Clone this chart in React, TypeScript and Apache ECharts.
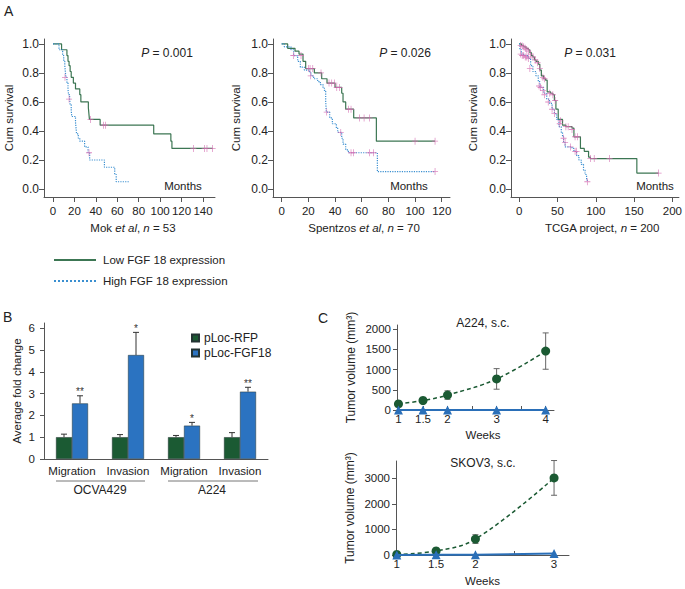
import React, { useEffect, useRef } from "react";
import * as echarts from "echarts";

const F = "'Liberation Sans', Arial, Helvetica, sans-serif";
const TXT = "#222";
const AX = "#555";
const GREEN_KM = "#3c7653";
const BLUE_KM = "#3a8fd0";
const PINK = "#d56db2";
const GREEN_DARK = "#1b5a33";
const BLUE_BAR = "#2b73c1";
const BLUE_LINE = "#2a6fb8";

// ---------- Panel A: Kaplan-Meier data [months, cum survival] ----------
const mokLow = [[0,1],[8,0.96],[13,0.92],[14,0.88],[15,0.85],[16,0.81],[17,0.77],[19,0.73],[21,0.69],[25,0.65],[26,0.6],[33,0.56],[33.5,0.52],[34,0.48],[44,0.44],[94,0.38],[110,0.33],[111,0.28],[149,0.28]];
const mokHigh = [[0,1],[5.6,0.96],[9,0.92],[10,0.88],[11,0.85],[11.5,0.81],[12,0.77],[13,0.73],[14,0.69],[14.5,0.65],[15.5,0.62],[16,0.58],[17,0.54],[17.5,0.5],[21,0.46],[21.5,0.42],[22,0.38],[23.6,0.35],[25,0.33],[29.5,0.29],[32.7,0.25],[34.2,0.2],[48,0.15],[57.6,0.1],[59,0.05],[71,0.05]];
const mokCensor = [[35,0.48],[47,0.44],[49,0.44],[131,0.28],[141.5,0.28],[143.7,0.28],[149,0.28],[11.2,0.77],[15,0.62],[33.6,0.25]];

const spLow = [[0,1],[4.5,0.97],[10,0.95],[13,0.93],[16,0.88],[18,0.83],[24.5,0.8],[30,0.76],[34,0.73],[40,0.7],[45,0.66],[46,0.6],[48,0.55],[54,0.49],[71,0.33],[115,0.33]];
const spHigh = [[0,1],[2,0.98],[7,0.96],[9,0.92],[12,0.88],[14,0.84],[17,0.82],[21,0.8],[22,0.78],[24,0.76],[27,0.74],[29,0.72],[31,0.7],[32,0.68],[33,0.6],[33.5,0.53],[36,0.49],[38,0.45],[41,0.42],[42,0.39],[45,0.35],[46,0.31],[48,0.27],[50,0.25],[71.75,0.12],[115,0.12]];
const spCensor = [[14.5,0.92],[20,0.83],[21.3,0.83],[23.3,0.83],[29.5,0.8],[35.5,0.73],[37.5,0.73],[39.5,0.73],[41.3,0.7],[43.3,0.7],[50,0.55],[52,0.55],[58.3,0.49],[61.8,0.49],[65.8,0.49],[100,0.33],[115,0.33],[8.75,0.92],[21.75,0.78],[33.75,0.53],[44.3,0.39],[52,0.25],[53.8,0.25],[65.8,0.25],[68.8,0.25],[115,0.12]];

const tcgaLow = [[0,1],[3,0.99],[6,0.98],[9,0.97],[12,0.96],[14,0.94],[16,0.92],[18,0.91],[20,0.89],[22,0.88],[25,0.86],[27,0.82],[29,0.78],[32,0.76],[34.5,0.75],[36.6,0.67],[41,0.66],[44,0.65],[46,0.61],[48,0.55],[51,0.48],[56.6,0.44],[61,0.43],[69,0.42],[71.5,0.36],[80,0.28],[85,0.26],[90.6,0.22],[93,0.21],[153.6,0.11],[182,0.11]];
const tcgaHigh = [[0,1],[1,0.96],[3,0.93],[6,0.92],[12,0.9],[15,0.85],[18,0.81],[22,0.78],[25,0.74],[27,0.7],[32,0.66],[36,0.62],[39.6,0.59],[43,0.55],[46,0.52],[49,0.48],[52,0.43],[55,0.39],[56.6,0.36],[58,0.32],[60,0.29],[69,0.28],[71.5,0.26],[75,0.23],[78,0.2],[81,0.17],[84,0.13],[86,0.1],[88,0.07],[89,0.05]];
const tcgaCensor = [[2,0.99],[4,0.985],[6,0.98],[8,0.97],[10,0.96],[12,0.95],[15,0.93],[18,0.91],[21,0.89],[24,0.87],[27,0.83],[31,0.77],[33,0.76],[40,0.66],[44,0.65],[47,0.61],[54,0.47],[61,0.43],[64,0.43],[69,0.41],[73,0.36],[76,0.36],[93,0.21],[98,0.21],[118,0.21],[182,0.11],[2,0.93],[4,0.92],[6,0.92],[8,0.91],[10,0.91],[12,0.9],[14,0.83],[26,0.71],[28,0.7],[31,0.68],[33,0.65],[38,0.6],[43,0.55],[46,0.52],[53,0.45],[58,0.35],[60,0.32],[67,0.29],[73,0.26],[75,0.26],[89,0.05]];

const kmSurvTicks = [0, 0.2, 0.4, 0.6, 0.8, 1.0];
const mokTicks = [0, 20, 40, 60, 80, 100, 120, 140];
const spTicks = [0, 20, 40, 60, 80, 100, 120];
const tcgaTicks = [0, 50, 100, 150, 200];

// ---------- Panel B ----------
const bCategories = ["Migration", "Invasion", "Migration", "Invasion"];
const bGroups = ["OCVA429", "A224"];
const rfpValues = [1.0, 1.0, 1.0, 1.0];
const rfpErrors = [0.14, 0.12, 0.08, 0.21];
const fgfValues = [2.55, 4.77, 1.53, 3.09];
const fgfErrors = [0.35, 1.04, 0.15, 0.2];
const fgfSig = ["**", "*", "*", "**"];
const bTicks = [0, 1, 2, 3, 4, 5, 6];

// ---------- Panel C ----------
const c1Weeks = [1, 1.5, 2, 3, 4];
const c1Rfp = [150, 235, 370, 770, 1460];
const c1RfpErr = [40, 50, 105, 255, 450];
const c1Fgf = [0, 0, 0, 0, 0];
const c1TickVals = [1, 1.5, 2, 2.5, 3, 3.5, 4];
const c1LabelVals = [1, 1.5, 2, 3, 4];
const c1YTicks = [0, 500, 1000, 1500, 2000];

const c2Weeks = [1, 1.5, 2, 3];
const c2Rfp = [20, 160, 625, 3020];
const c2RfpErr = [0, 40, 170, 680];
const c2Fgf = [0, 5, 10, 60];
const c2TickVals = [1, 1.5, 2, 2.5, 3];
const c2LabelVals = [1, 1.5, 2, 3];
const c2YTicks = [0, 1000, 2000, 3000];

const BAR_W = 16;
const PLUS = "path://M4.4,0H5.6V4.4H10V5.6H5.6V10H4.4V5.6H0V4.4H4.4Z";

const pairs = (xs: number[], ys: number[]) => xs.map((x, i) => [x, ys[i]]);

function kmX(grid: number, min: number, max: number, ticks: number[]) {
  return {
    type: "value", gridIndex: grid, min, max,
    axisLine: { onZero: false, lineStyle: { color: AX, width: 1 } },
    axisTick: { customValues: ticks, length: 5, lineStyle: { color: AX } },
    axisLabel: { customValues: ticks, margin: 8, fontSize: 11.5, fontFamily: F, color: TXT, formatter: (v: number) => String(v) },
    splitLine: { show: false },
  };
}
function kmY(grid: number, gap: number) {
  return {
    type: "value", gridIndex: grid, min: -0.055, max: 1.034,
    name: "Cum survival", nameLocation: "middle", nameGap: gap,
    nameTextStyle: { fontSize: 11.5, fontFamily: F, color: TXT },
    axisLine: { show: true, onZero: false, lineStyle: { color: AX, width: 1 } },
    axisTick: { show: true, customValues: kmSurvTicks, length: 5, lineStyle: { color: AX } },
    axisLabel: { customValues: kmSurvTicks, margin: 5, fontSize: 12, fontFamily: F, color: TXT, formatter: (v: number) => v.toFixed(1) },
    splitLine: { show: false },
  };
}
function kmSeries(idx: number, low: number[][], high: number[][], cens: number[][]) {
  return [
    { name: "Low FGF 18 expression", type: "line", step: "end", xAxisIndex: idx, yAxisIndex: idx, data: low, symbol: "none", showSymbol: false, lineStyle: { color: GREEN_KM, width: 1.2 }, itemStyle: { color: GREEN_KM }, z: 3 },
    { name: "High FGF 18 expression", type: "line", step: "end", xAxisIndex: idx, yAxisIndex: idx, data: high, symbol: "none", showSymbol: false, lineStyle: { color: BLUE_KM, width: 1.2, type: "dotted" }, itemStyle: { color: BLUE_KM }, z: 3 },
    { name: "censored" + idx, type: "scatter", xAxisIndex: idx, yAxisIndex: idx, data: cens, symbol: PLUS, symbolSize: [6, 7], itemStyle: { color: PINK }, z: 4, clip: false },
  ];
}

function cErrRender(params: any, api: any) {
  const x = api.value(0), v = api.value(1), e = api.value(2);
  if (!e) return { type: "group", children: [] };
  const lo = api.coord([x, v - e]);
  const hi = api.coord([x, v + e]);
  const st = { stroke: "#666", lineWidth: 1 };
  return {
    type: "group",
    children: [
      { type: "line", shape: { x1: lo[0], y1: lo[1], x2: hi[0], y2: hi[1] }, style: st },
      { type: "line", shape: { x1: lo[0] - 3, y1: lo[1], x2: lo[0] + 3, y2: lo[1] }, style: st },
      { type: "line", shape: { x1: hi[0] - 3, y1: hi[1], x2: hi[0] + 3, y2: hi[1] }, style: st },
    ],
  };
}
function bErrRender(sign: number, labels: string[] | null) {
  return (params: any, api: any) => {
    const c = api.value(0), v = api.value(1), e = api.value(2);
    const base = api.coord([c, v]);
    const top = api.coord([c, v + e]);
    const x = base[0] + (sign * BAR_W) / 2;
    const st = { stroke: "#333", lineWidth: 1 };
    const children: any[] = [
      { type: "line", shape: { x1: x, y1: base[1], x2: x, y2: top[1] }, style: st },
      { type: "line", shape: { x1: x - 3, y1: top[1], x2: x + 3, y2: top[1] }, style: st },
    ];
    if (labels) {
      children.push({ type: "text", x, y: top[1] + 1, style: { text: labels[params.dataIndex], textAlign: "center", textVerticalAlign: "bottom", fontSize: 10, fontFamily: F, fill: "#333" } });
    }
    return { type: "group", children };
  };
}

function cY(grid: number, max: number, ticks: number[]) {
  return {
    type: "value", gridIndex: grid, min: 0, max,
    name: "Tumor volume (mm³)", nameLocation: "middle", nameGap: 40,
    nameTextStyle: { fontSize: 12, fontFamily: F, color: TXT },
    axisLine: { show: true, onZero: false, lineStyle: { color: AX } },
    axisTick: { show: true, customValues: ticks, length: 4, lineStyle: { color: AX } },
    axisLabel: { customValues: ticks, margin: 6, fontSize: 11.5, fontFamily: F, color: TXT, formatter: (v: number) => String(v) },
    splitLine: { show: false },
  };
}
function cX(grid: number, min: number, max: number, ticks: number[], labels: number[], name: string, gap: number) {
  return {
    type: "value", gridIndex: grid, min, max,
    name, nameLocation: "middle", nameGap: gap,
    nameTextStyle: { fontSize: 11.5, fontFamily: F, color: TXT },
    axisLine: { onZero: false, lineStyle: { color: AX } },
    axisTick: { customValues: ticks, inside: true, length: 4, lineStyle: { color: AX } },
    axisLabel: { customValues: labels, margin: 3, fontSize: 11.5, fontFamily: F, color: TXT, formatter: (v: number) => String(v) },
    splitLine: { show: false },
  };
}
function cSeries(xi: number, yi: number, weeks: number[], rfp: number[], err: number[], fgf: number[]) {
  return [
    { name: "err" + xi, type: "custom", xAxisIndex: xi, yAxisIndex: yi, renderItem: cErrRender, data: weeks.map((w, i) => [w, rfp[i], err[i]]), encode: { x: 0, y: 1 }, z: 2, clip: false },
    { name: "rfp" + xi, type: "line", xAxisIndex: xi, yAxisIndex: yi, data: pairs(weeks, rfp), smooth: 0.4, symbol: "circle", symbolSize: 9, lineStyle: { color: GREEN_DARK, width: 1.5, type: [4, 3] }, itemStyle: { color: GREEN_DARK }, z: 3, clip: false },
    { name: "fgf" + xi, type: "line", xAxisIndex: xi, yAxisIndex: yi, data: pairs(weeks, fgf), symbol: "triangle", symbolSize: 9, lineStyle: { color: BLUE_LINE, width: 2 }, itemStyle: { color: BLUE_LINE }, z: 4, clip: false },
  ];
}

function t(x: number, y: number, text: string, size = 11.5, align = "center", rich = false) {
  const style: any = { text, fontSize: size, fontFamily: F, fill: TXT, textAlign: align, textVerticalAlign: "middle" };
  if (rich) style.rich = { i: { fontStyle: "italic", fontSize: size, fontFamily: F, fill: TXT } };
  return { type: "text", x, y, style };
}

export default function App() {
  const ref = useRef<HTMLDivElement>(null);
  useEffect(() => {
    if (!ref.current) return;
    const chart = echarts.init(ref.current, null, { renderer: "svg" });
    const option: any = {
      animation: false,
      backgroundColor: "#fff",
      textStyle: { fontFamily: F },
      grid: [
        { left: 44, top: 39, width: 171, height: 158 },
        { left: 273, top: 39, width: 177, height: 158 },
        { left: 511, top: 39, width: 171, height: 158 },
        { left: 44, top: 323, width: 224, height: 136 },
        { left: 397, top: 325, width: 157, height: 85 },
        { left: 396, top: 461, width: 173, height: 94 },
      ],
      xAxis: [
        kmX(0, -8.4, 151.2, mokTicks),
        kmX(1, -6.5, 126.2, spTicks),
        kmX(2, -10.6, 208.5, tcgaTicks),
        {
          type: "category", gridIndex: 3, data: bCategories,
          axisLine: { lineStyle: { color: AX } }, axisTick: { show: false },
          axisLabel: { interval: 0, margin: 6, fontSize: 11.5, fontFamily: F, color: TXT },
        },
        {
          type: "category", gridIndex: 3, data: bGroups, position: "bottom",
          axisLine: { show: false }, axisTick: { show: false },
          axisLabel: { interval: 0, margin: 25, fontSize: 12, fontFamily: F, color: TXT },
        },
        cX(4, 0.97, 4.17, c1TickVals, c1LabelVals, "", 18),
        cX(5, 0.99, 3.19, c2TickVals, c2LabelVals, "Weeks", 20),
      ],
      yAxis: [
        kmY(0, 29),
        kmY(1, 31),
        kmY(2, 32),
        {
          type: "value", gridIndex: 3, min: 0, max: 6.24,
          name: "Average fold change", nameLocation: "middle", nameGap: 21,
          nameTextStyle: { fontSize: 11.5, fontFamily: F, color: TXT },
          axisLine: { show: true, lineStyle: { color: AX } },
          axisTick: { show: true, customValues: bTicks, length: 4, lineStyle: { color: AX } },
          axisLabel: { customValues: bTicks, margin: 9, fontSize: 11.5, fontFamily: F, color: TXT },
          splitLine: { show: false },
        },
        cY(4, 2106, c1YTicks),
        cY(5, 3682, c2YTicks),
      ],
      legend: [
        {
          data: ["Low FGF 18 expression", "High FGF 18 expression"],
          orient: "vertical", left: 48, top: 248, itemWidth: 42, itemHeight: 14, itemGap: 7,
          selectedMode: false,
          itemStyle: { opacity: 0, borderWidth: 0 },
          textStyle: { fontSize: 11.5, fontFamily: F, color: TXT, lineHeight: 14, padding: [0, 0, 0, 2] },
        },
        {
          data: ["pLoc-RFP", "pLoc-FGF18"],
          orient: "vertical", left: 186, top: 326, icon: "rect", itemWidth: 7, itemHeight: 7, itemGap: 1,
          selectedMode: false,
          textStyle: { fontSize: 12, fontFamily: F, color: TXT, lineHeight: 14 },
        },
      ],
      series: [
        ...kmSeries(0, mokLow, mokHigh, mokCensor),
        ...kmSeries(1, spLow, spHigh, spCensor),
        ...kmSeries(2, tcgaLow, tcgaHigh, tcgaCensor),
        { name: "pLoc-RFP", type: "bar", xAxisIndex: 3, yAxisIndex: 3, data: rfpValues, barWidth: BAR_W, barGap: "0%", itemStyle: { color: GREEN_DARK, borderColor: "#233", borderWidth: 0.5 }, z: 2 },
        { name: "pLoc-FGF18", type: "bar", xAxisIndex: 3, yAxisIndex: 3, data: fgfValues, barWidth: BAR_W, barGap: "0%", itemStyle: { color: BLUE_BAR, borderColor: "#233", borderWidth: 0.5 }, z: 2 },
        { name: "rfpErr", type: "custom", xAxisIndex: 3, yAxisIndex: 3, renderItem: bErrRender(-1, null), data: rfpValues.map((v, i) => [i, v, rfpErrors[i]]), encode: { x: 0, y: 1 }, z: 3, clip: false },
        { name: "fgfErr", type: "custom", xAxisIndex: 3, yAxisIndex: 3, renderItem: bErrRender(1, fgfSig), data: fgfValues.map((v, i) => [i, v, fgfErrors[i]]), encode: { x: 0, y: 1 }, z: 3, clip: false },
        ...cSeries(5, 4, c1Weeks, c1Rfp, c1RfpErr, c1Fgf),
        ...cSeries(6, 5, c2Weeks, c2Rfp, c2RfpErr, c2Fgf),
      ],
      graphic: [
        t(4, 11, "A", 14, "left"),
        t(3, 317, "B", 14, "left"),
        t(318, 318, "C", 14, "left"),
        t(167, 53, "{i|P} = 0.001", 12, "center", true),
        t(405, 53, "{i|P} = 0.026", 12, "center", true),
        t(590, 53, "{i|P} = 0.031", 12, "center", true),
        t(183, 186, "Months"),
        t(409, 186, "Months"),
        t(655, 186, "Months"),
        t(133, 228, "Mok {i|et al}, {i|n} = 53", 11.5, "center", true),
        t(364, 228, "Spentzos {i|et al}, {i|n} = 70", 11.5, "center", true),
        t(602, 228, "TCGA project, {i|n} = 200", 11.5, "center", true),
        t(483, 323, "A224, s.c.", 12),
        t(483, 435, "Weeks"),
        t(483, 463, "SKOV3, s.c.", 12),
        { type: "line", shape: { x1: 56, y1: 481, x2: 145, y2: 481 }, style: { stroke: "#777", lineWidth: 1 } },
        { type: "line", shape: { x1: 168, y1: 481, x2: 258, y2: 481 }, style: { stroke: "#777", lineWidth: 1 } },
      ],
    };
    chart.setOption(option);
    return () => chart.dispose();
  }, []);
  return <div ref={ref} style={{ position: "absolute", left: 0, top: 0, width: 685, height: 589 }} />;
}
